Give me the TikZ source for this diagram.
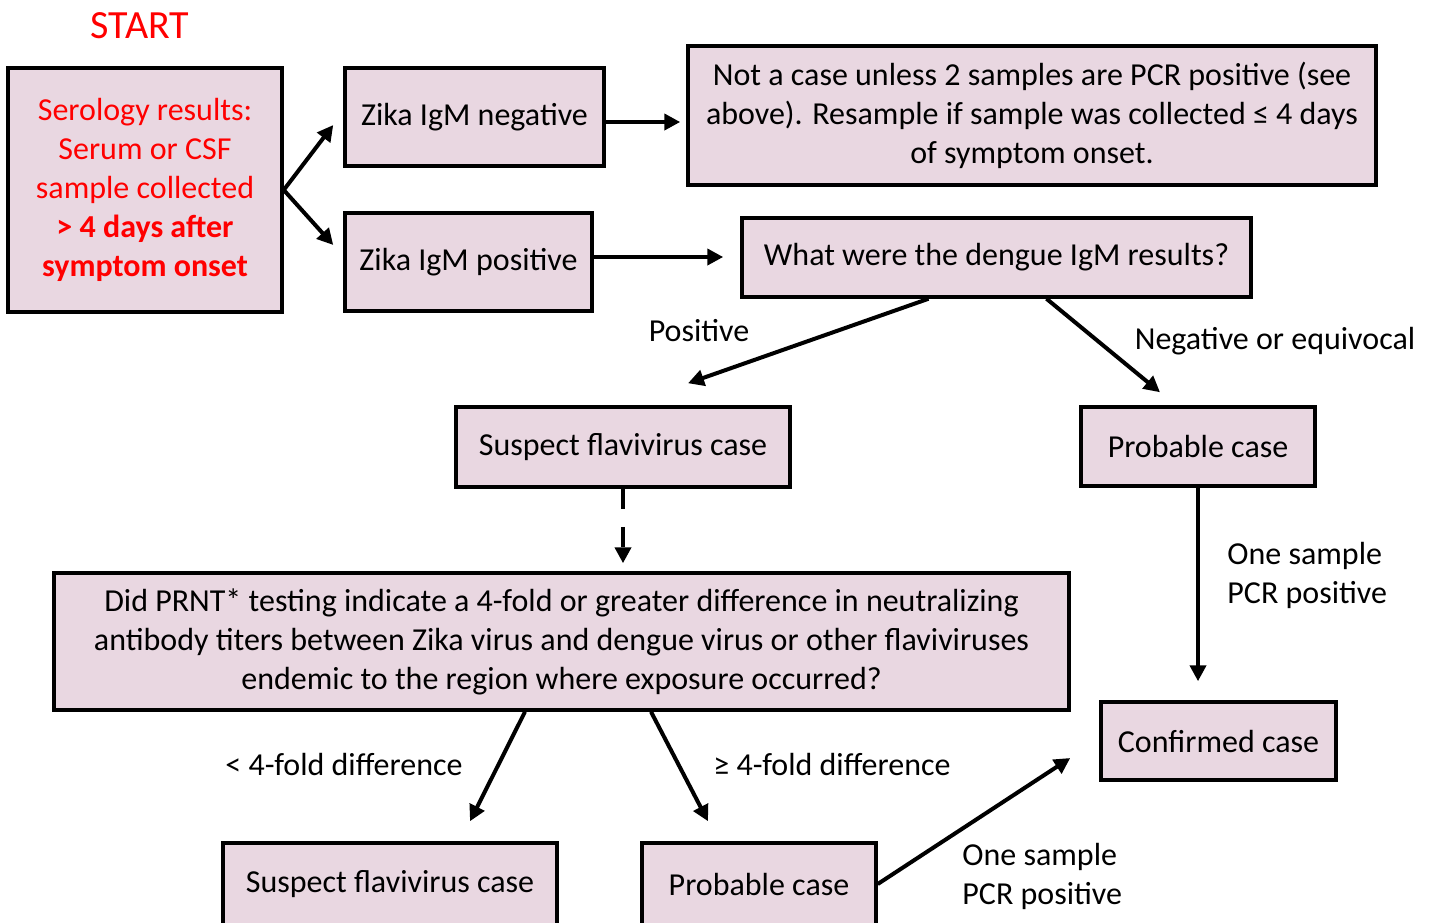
\documentclass[tikz,border=0pt]{standalone}
\usepackage{fontspec}
\setmainfont{Carlito}
\usetikzlibrary{arrows.meta,calc}
\definecolor{boxpink}{RGB}{233,215,225}
\tikzstyle{box}=[draw=black,line width=1.75pt,fill=boxpink,inner sep=0pt,align=center,font=\fontsize{16}{19.5}\selectfont]
\tikzstyle{lbl}=[inner sep=0pt,font=\fontsize{16}{19.5}\selectfont]
\tikzstyle{arr}=[line width=2pt,-{Triangle[length=8pt,width=8pt]}]

\begin{document}
\begin{tikzpicture}[x=0.5pt, y=-0.5pt]
\useasboundingbox (0,0) rectangle (1434,922);
\clip (0,0) rectangle (1434,922);
%start
\node[lbl,text=red,font=\fontsize{20}{24}\selectfont] (start) at (140,26) {START};
\node[box,text=red,minimum width=137pt,minimum height=122pt] (sero) at (145,190)
{Serology results:\\Serum or CSF\\sample collected\\\textbf{> 4 days after}\\\textbf{symptom onset}};
%boxes
\node[box,minimum width=129.5pt,minimum height=49pt] (neg) at (474.5,117) {Zika IgM negative};
\node[box,minimum width=123.5pt,minimum height=49pt] (pos) at (468.5,262) {Zika IgM positive};
\node[box,minimum width=344pt,minimum height=69.5pt] (nocase) at (1032,115.5)
{Not a case unless 2 samples are PCR positive (see\\above). Resample if sample was collected ≤ 4 days\\of symptom onset.};
\node[box,minimum width=254.5pt,minimum height=39.5pt] (dengue) at (996.5,257.5) {What were the dengue IgM results?};
\node[box,minimum width=167pt,minimum height=40pt] (susp1) at (623,447) {Suspect flavivirus case};
\node[box,minimum width=117pt,minimum height=39.5pt] (prob1) at (1198,446.5) {Probable case};
\node[box,minimum width=507.5pt,minimum height=68.5pt] (prnt) at (561.5,641.5)
{Did PRNT* testing indicate a 4-fold or greater difference in neutralizing\\antibody titers between Zika virus and dengue virus or other flaviviruses\\endemic to the region where exposure occurred?};
\node[box,minimum width=117.5pt,minimum height=39pt] (conf) at (1218.5,741) {Confirmed case};
\node[box,minimum width=167pt,minimum height=41pt] (susp2) at (390,884) {Suspect flavivirus case};
\node[box,minimum width=117pt,minimum height=41pt] (prob2) at (759,884) {Probable case};
%labels
\node[lbl] (lpos) at (699,331) {Positive};
\node[lbl] (lneg) at (1275,341) {Negative or equivocal};
\node[lbl,anchor=west,align=left] (lpcr1) at (1227,575) {One sample\\PCR positive};
\node[lbl] (lless) at (344,764) {< 4-fold difference};
\node[lbl] (lmore) at (832,764) {≥ 4-fold difference};
\node[lbl,anchor=west,align=left] (lpcr2) at (962,876) {One sample\\PCR positive};
%arrows
\draw[arr] (sero.east) -- ($(neg.west)+(-10,8)$);
\draw[arr] (sero.east) -- ($(pos.west)+(-10,-17)$);
\draw[arr,shorten >=3pt] ($(neg.east)+(0,5)$) -- ($(neg.east -| nocase.west)+(0,5)$);
\draw[arr,shorten >=8.5pt] ($(pos.east)+(0,-5)$) -- ($(pos.east -| dengue.west)+(0,-5)$);
\draw[arr] ($(dengue.south)+(-68,0)$) -- ($(susp1.north)+(65,-22)$);
\draw[arr] ($(dengue.south)+(50,0)$) -- ($(prob1.north)+(-38,-13)$);
\draw[arr,dash pattern=on 10pt off 9pt,shorten >=4pt] (susp1.south) -- (susp1.south |- prnt.north);
\draw[arr,shorten >=9.5pt] (prob1.south) -- (prob1.south |- conf.north);
\draw[arr] ($(prnt.south)+(-36.5,0)$) -- ($(susp2.north)+(80,-20)$);
\draw[arr] ($(prnt.south)+(89.5,0)$) -- ($(prob2.north)+(-51,-20)$);
\draw[arr] (prob2.east) -- ($(conf.west)+(-29,17)$);
\end{tikzpicture}
\end{document}
